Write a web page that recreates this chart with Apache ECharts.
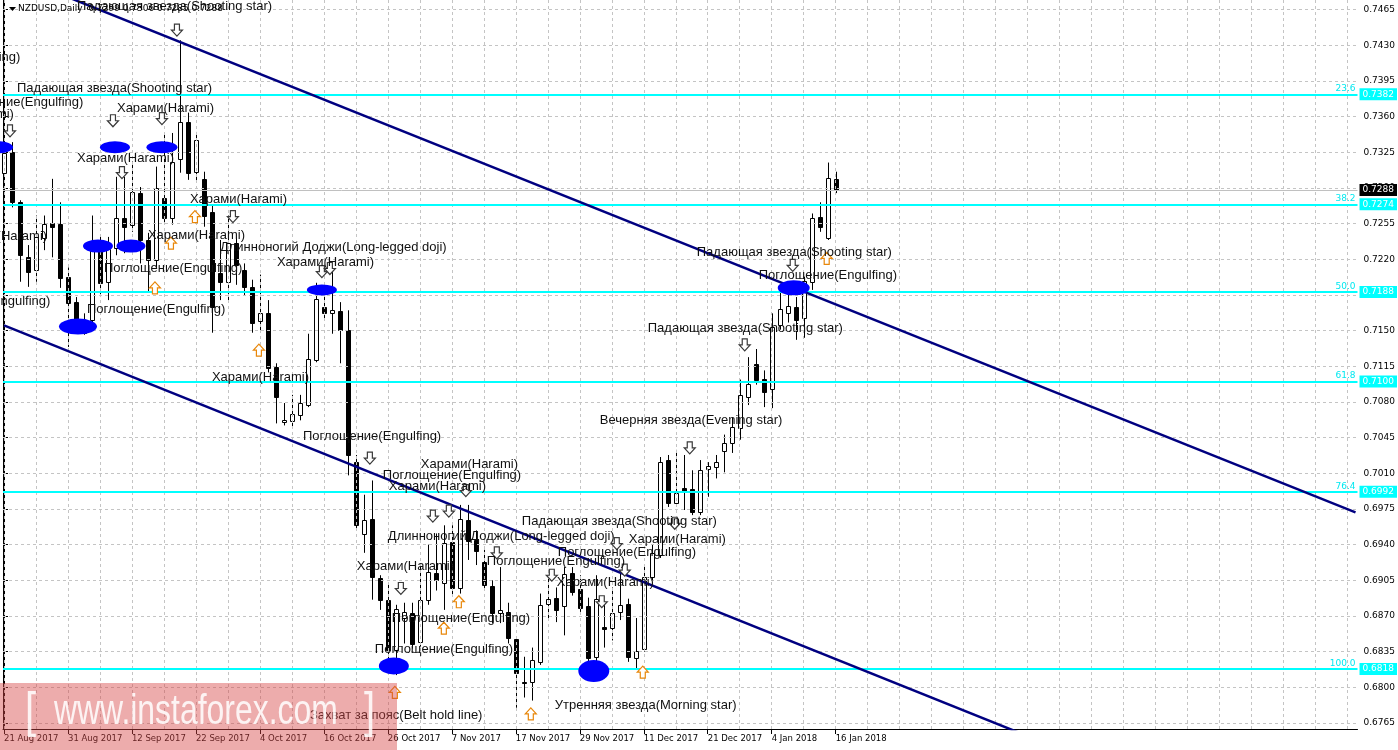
<!DOCTYPE html>
<html><head><meta charset="utf-8">
<script src="https://cdn.jsdelivr.net/npm/echarts@6/dist/echarts.min.js"></script>
<style>html,body{margin:0;padding:0;background:#fff}#c{width:1398px;height:750px}</style>
</head><body><div id="c"></div>
<script>
const dateLabels = ['21 Aug 2017','31 Aug 2017','12 Sep 2017','22 Sep 2017','4 Oct 2017','16 Oct 2017','26 Oct 2017','7 Nov 2017','17 Nov 2017','29 Nov 2017','11 Dec 2017','21 Dec 2017','4 Jan 2018','16 Jan 2018'];
const opens = [0.7305,0.7325,0.7276,0.7222,0.7210,0.7241,0.7256,0.7255,0.7203,0.7178,
0.7148,0.7160,0.7232,0.7198,0.7231,0.7261,0.7254,0.7285,0.7239,0.7219,
0.7280,0.7261,0.7318,0.7355,0.7306,0.7299,0.7266,0.7207,0.7198,0.7236,
0.7210,0.7193,0.7159,0.7167,0.7114,0.7060,0.7061,0.7067,0.7077,0.7121,
0.7173,0.7167,0.7169,0.7151,0.7021,0.6950,0.6965,0.6907,0.6886,0.6837,
0.6868,0.6873,0.6844,0.6886,0.6912,0.6902,0.6943,0.6897,0.6964,0.6945,
0.6923,0.6899,0.6873,0.6874,0.6847,0.6805,0.6805,0.6825,0.6882,0.6888,
0.6880,0.6912,0.6896,0.6880,0.6830,0.6859,0.6858,0.6874,0.6882,0.6829,
0.6838,0.6908,0.6930,0.7023,0.6981,0.6996,0.6995,0.6972,0.7014,0.7016,
0.7032,0.7040,0.7054,0.7085,0.7117,0.7103,0.7093,0.7156,0.7167,0.7173,
0.7162,0.7198,0.7262,0.7241,0.7299];
const highs = [0.7337,0.7335,0.7278,0.7234,0.7263,0.7263,0.7299,0.7276,0.7212,0.7183,
0.7167,0.7263,0.7242,0.7242,0.7301,0.7301,0.7316,0.7291,0.7246,0.7311,
0.7344,0.7344,0.7435,0.7364,0.7345,0.7306,0.7273,0.7239,0.7263,0.7242,
0.7216,0.7200,0.7205,0.7180,0.7118,0.7079,0.7087,0.7087,0.7147,0.7197,
0.7197,0.7214,0.7178,0.7170,0.7028,0.6989,0.7003,0.6910,0.6903,0.6881,
0.6883,0.6883,0.6920,0.6940,0.6951,0.6959,0.6959,0.6979,0.6979,0.6954,
0.6935,0.6905,0.6918,0.6883,0.6849,0.6830,0.6839,0.6892,0.6910,0.6898,
0.6918,0.6918,0.6910,0.6888,0.6910,0.6883,0.6898,0.6912,0.6887,0.6868,
0.6920,0.6940,0.7026,0.7028,0.7033,0.7028,0.7013,0.7023,0.7021,0.7028,
0.7048,0.7065,0.7102,0.7124,0.7132,0.7111,0.7167,0.7193,0.7187,0.7183,
0.7203,0.7265,0.7276,0.7315,0.7306];
const lows = [0.7298,0.7271,0.7198,0.7193,0.7198,0.7229,0.7222,0.7192,0.7134,0.7147,
0.7146,0.7156,0.7183,0.7180,0.7224,0.7226,0.7247,0.7216,0.7188,0.7212,
0.7256,0.7254,0.7305,0.7298,0.7296,0.7252,0.7148,0.7180,0.7180,0.7195,
0.7185,0.7148,0.7148,0.7109,0.7059,0.7057,0.7054,0.7062,0.7075,0.7119,
0.7162,0.7147,0.7118,0.7008,0.6956,0.6932,0.6886,0.6876,0.6824,0.6812,
0.6843,0.6838,0.6840,0.6881,0.6895,0.6876,0.6890,0.6892,0.6925,0.6920,
0.6895,0.6863,0.6863,0.6843,0.6780,0.6790,0.6787,0.6822,0.6866,0.6864,
0.6851,0.6890,0.6874,0.6825,0.6815,0.6839,0.6846,0.6866,0.6825,0.6817,
0.6835,0.6905,0.6927,0.6977,0.6977,0.6974,0.6969,0.6969,0.6987,0.7005,
0.7011,0.7030,0.7043,0.7077,0.7097,0.7075,0.7074,0.7151,0.7158,0.7141,
0.7143,0.7190,0.7247,0.7239,0.7285];
const closes = [0.7324,0.7276,0.7224,0.7208,0.7242,0.7255,0.7252,0.7202,0.7177,0.7156,
0.7160,0.7232,0.7197,0.7230,0.7261,0.7252,0.7286,0.7239,0.7219,0.7290,
0.7261,0.7316,0.7355,0.7305,0.7337,0.7263,0.7173,0.7198,0.7236,0.7214,
0.7193,0.7158,0.7167,0.7113,0.7085,0.7062,0.7068,0.7079,0.7122,0.7181,
0.7167,0.7170,0.7151,0.7028,0.6959,0.6964,0.6908,0.6886,0.6837,0.6877,
0.6874,0.6843,0.6886,0.6913,0.6905,0.6942,0.6897,0.6965,0.6944,0.6934,
0.6900,0.6873,0.6876,0.6848,0.6814,0.6804,0.6827,0.6881,0.6887,0.6876,
0.6911,0.6894,0.6878,0.6829,0.6887,0.6857,0.6873,0.6881,0.6830,0.6836,
0.6908,0.6932,0.7021,0.6981,0.6991,0.6993,0.6972,0.7013,0.7017,0.7021,
0.7040,0.7055,0.7087,0.7098,0.7102,0.7090,0.7154,0.7171,0.7174,0.7160,
0.7199,0.7261,0.7252,0.7300,0.7288];
const priceTicks = [0.6765,0.6800,0.6835,0.6870,0.6905,0.6940,0.6975,0.7010,0.7045,0.7080,0.7115,0.7150,0.7185,0.7220,0.7255,0.7290,0.7325,0.7360,0.7395,0.7430,0.7465];
const fibLevels = [0.7382,0.7274,0.7188,0.7100,0.6992,0.6818];
const fibNames = ['23.6','38.2','50.0','61.8','76.4','100.0'];
const lastPrice = 0.7288;
const headerText = 'NZDUSD,Daily  0.7299 0.7306 0.7285 0.7288';
const channelUpper = [[0,0.75024],[169,0.69716]];
const channelLower = [[0,0.71552],[169,0.66230]];
const patternTexts = [
[9.125,0.7468,'Падающая звезда(Shooting star)'],
[-15.25,0.7418,'Поглощение(Engulfing)'],
[1.625,0.7388,'Падающая звезда(Shooting star)'],
[-7.375,0.7374,'Поглощение(Engulfing)'],
[-10.9,0.7362,'Харами(Harami)'],
[14.125,0.7368,'Харами(Harami)'],
[9.125,0.7319,'Харами(Harami)'],
[23.25,0.7279,'Харами(Harami)'],
[-6.75,0.7242,'Харами(Harami)'],
[18,0.7243,'Харами(Harami)'],
[27,0.7232,'Длинноногий Доджи(Long-legged doji)'],
[34.125,0.7217,'Харами(Harami)'],
[12.5,0.7211,'Поглощение(Engulfing)'],
[-11.5,0.7179,'Поглощение(Engulfing)'],
[10.375,0.7171,'Поглощение(Engulfing)'],
[26,0.7104,'Харами(Harami)'],
[37.375,0.7046,'Поглощение(Engulfing)'],
[52.125,0.7019,'Харами(Harami)'],
[47.375,0.7008,'Поглощение(Engulfing)'],
[48.125,0.6997,'Харами(Harami)'],
[64.75,0.6963,'Падающая звезда(Shooting star)'],
[48,0.6948,'Длинноногий Доджи(Long-legged doji)'],
[69.25,0.6932,'Поглощение(Engulfing)'],
[78.125,0.6945,'Харами(Harami)'],
[60.375,0.6924,'Поглощение(Engulfing)'],
[69.125,0.6903,'Харами(Harami)'],
[44.125,0.6919,'Харами(Harami)'],
[48.5,0.6868,'Поглощение(Engulfing)'],
[46.375,0.6837,'Поглощение(Engulfing)'],
[38.25,0.6772,'Захват за пояс(Belt hold line)'],
[68.875,0.6782,'Утренняя звезда(Morning star)'],
[74.5,0.7062,'Вечерняя звезда(Evening star)'],
[80.5,0.7152,'Падающая звезда(Shooting star)'],
[86.625,0.7227,'Падающая звезда(Shooting star)'],
[94.375,0.7204,'Поглощение(Engulfing)']
];
const downArrows = [[21.625,0.7445],[0.75,0.7346],[13.625,0.7356],[19.75,0.7358],[14.75,0.7305],[28.625,0.7262],
[39.75,0.7208],[40.75,0.7211],[45.75,0.7025],[57.75,0.6993],[53.625,0.6968],[55.625,0.6973],[61.625,0.6932],
[49.625,0.6897],[68.5,0.6910],[76.625,0.6941],[77.625,0.6915],[74.75,0.6884],[83.875,0.6961],[85.75,0.7035],
[92.625,0.7136],[98.625,0.7214]];
const upArrows = [[23.875,0.7262],[20.875,0.7236],[18.875,0.7192],[31.875,0.7131],[56.875,0.6884],[55,0.6858],
[48.875,0.6795],[65.875,0.6774],[79.875,0.6815],[102.875,0.7221]];
const ellipses = [[-0.75,0.7330],[13.875,0.7330],[19.75,0.7330],[11.75,0.7233],[15.875,0.7233],[9.25,0.7154],
[39.75,0.7190],[48.75,0.6821],[73.75,0.6816],[98.75,0.7192]];
const ellipseSizes = [[30,12],[30,12],[31,12],[30,13],[29,13],[38,16],[30,11],[30,17],[31,22],[32,15]];

const candleData = opens.map((o,i)=>[i,o,highs[i],lows[i],closes[i]]);
const dateTickVals = dateLabels.map((_,k)=>k*8);
const vGrid = []; for (let i=0;i<=168;i+=4) vGrid.push({xAxis:i});
const hGrid = priceTicks.map(v=>({yAxis:v}));
const AX_FONT = 'DejaVu Sans';

function renderCandle(params, api){
  const i=api.value(0), o=api.value(1), h=api.value(2), l=api.value(3), c=api.value(4);
  const po=api.coord([i,o]), pc=api.coord([i,c]), ph=api.coord([i,h]), pl=api.coord([i,l]);
  const x=Math.round(po[0])+0.5;
  const top=Math.round(Math.min(po[1],pc[1]))+0.5, bot=Math.round(Math.max(po[1],pc[1]))+0.5;
  const bull=c>=o;
  return {type:'group',children:[
    {type:'line',shape:{x1:x,y1:ph[1],x2:x,y2:pl[1]},style:{stroke:'#000',lineWidth:1}},
    {type:'rect',shape:{x:x-2,y:top,width:4,height:Math.max(bot-top,1)},style:{fill:bull?'#fff':'#000',stroke:'#000',lineWidth:1}}
  ]};
}
function arrowRender(dir, color){
  return function(params, api){
    const p=api.coord([api.value(0),api.value(1)]);
    const pts=[[-2.5,-6],[2.5,-6],[2.5,0],[5.5,0],[0,6],[-5.5,0],[-2.5,0]].map(q=>[p[0]+q[0],p[1]+q[1]*dir]);
    return {type:'polygon',shape:{points:pts},style:{fill:'#fff',stroke:color,lineWidth:1.2}};
  };
}
function textRender(params, api){
  const p=api.coord([api.value(0),api.value(1)]);
  return {type:'text',x:p[0],y:p[1],style:{text:patternTexts[params.dataIndex][2],fill:'#111',font:'13px "Liberation Sans", Arial, sans-serif',align:'left',verticalAlign:'middle'}};
}
const clearLine = {type:'solid',color:'rgba(0,0,0,0)',width:0};

const chart = echarts.init(document.getElementById('c'), null, {renderer:'canvas'});
chart.setOption({
  animation:false,
  backgroundColor:'#fff',
  grid:{left:3,right:40,top:0,bottom:21},
  xAxis:{type:'value',min:-0.125,max:169.25,
    axisLine:{show:true,onZero:false,lineStyle:{color:'#000',width:1}},
    axisTick:{show:true,customValues:dateTickVals,length:5,lineStyle:{color:'#000'}},
    axisLabel:{customValues:dateTickVals,formatter:v=>dateLabels[Math.round(v/8)],align:'left',margin:5,color:'#000',fontFamily:AX_FONT,fontSize:8.5},
    splitLine:{show:false}},
  yAxis:[{type:'value',position:'right',min:0.67591,max:0.74745,
    axisLine:{show:true,lineStyle:{color:'#000',width:1}},
    axisTick:{show:true,customValues:priceTicks,length:4,lineStyle:{color:'#000'}},
    axisLabel:{customValues:priceTicks,formatter:v=>v.toFixed(4),margin:6,color:'#000',fontFamily:AX_FONT,fontSize:9},
    splitLine:{show:false}},
   {type:'value',position:'left',min:0.67591,max:0.74745,
    axisLine:{show:true,lineStyle:{color:'#000',width:1}},axisTick:{show:false},axisLabel:{show:false},splitLine:{show:false}}],
  series:[
    {type:'line',data:[],z:1,silent:true,
     markLine:{silent:true,symbol:'none',precision:4,animation:false,label:{show:false},
       lineStyle:{type:[3,3],color:'#c4c4c4',width:1},data:vGrid.concat(hGrid)}},
    {type:'line',data:[],z:2,silent:true,
     markLine:{silent:true,symbol:'none',precision:4,animation:false,
       lineStyle:{type:'solid',color:'#c0c0c0',width:1},
       label:{show:true,position:'end',distance:2,formatter:lastPrice.toFixed(4),backgroundColor:'#000',color:'#fff',padding:[2,3,1,3],fontFamily:AX_FONT,fontSize:9},
       data:[{yAxis:lastPrice}]}},
    {type:'custom',renderItem:renderCandle,data:candleData,z:3,encode:{x:0,y:[1,2,3,4]}},
    {type:'line',data:[],z:4,silent:true,
     markLine:{silent:true,symbol:'none',precision:4,animation:false,
       lineStyle:{type:'solid',color:'#00ffff',width:2},
       label:{show:true,position:'end',distance:2,backgroundColor:'#00ffff',color:'#fff',padding:[2,3,1,3],fontFamily:AX_FONT,fontSize:9,formatter:p=>fibLevels[p.dataIndex].toFixed(4)},
       data:fibLevels.map(v=>({yAxis:v}))}},
    {type:'line',data:[],z:5,silent:true,
     markLine:{silent:true,symbol:'none',precision:4,animation:false,
       lineStyle:clearLine,
       label:{show:true,position:'insideEndTop',distance:[2,1],color:'#00e8f0',fontFamily:AX_FONT,fontSize:9,formatter:p=>fibNames[p.dataIndex]},
       data:fibLevels.map(v=>({yAxis:v}))}},
    {type:'line',data:channelUpper,z:6,symbol:'none',lineStyle:{color:'#000080',width:2.5},clip:true},
    {type:'line',data:channelLower,z:6,symbol:'none',lineStyle:{color:'#000080',width:2.5},clip:true},
    {type:'scatter',data:ellipses,z:7,clip:false,symbol:'circle',symbolSize:(v,p)=>ellipseSizes[p.dataIndex],itemStyle:{color:'#0000ff',opacity:1}},
    {type:'custom',renderItem:arrowRender(1,'#3a3a3a'),data:downArrows,z:8,encode:{x:0,y:1}},
    {type:'custom',renderItem:arrowRender(-1,'#e8870a'),data:upArrows,z:8,encode:{x:0,y:1}},
    {type:'custom',renderItem:textRender,data:patternTexts.map(t=>[t[0],t[1]]),z:9,encode:{x:0,y:1}}
  ],
  graphic:[
    {type:'polygon',left:9,top:7,shape:{points:[[0,0],[7,0],[3.5,4]]},style:{fill:'#000'},z:20},
    {type:'text',left:18,top:4,style:{text:headerText,fill:'#000',font:'9px "DejaVu Sans"'},z:20},
    {type:'rect',left:0,top:683,shape:{width:397,height:67},style:{fill:'rgba(214,70,70,0.45)'},z:30},
    {type:'text',x:25,y:688,style:{text:'[',fill:'rgba(255,255,255,0.85)',font:'50px "Liberation Sans", sans-serif'},scaleX:0.8,z:31},
    {type:'text',x:54,y:691,style:{text:'www.instaforex.com',fill:'rgba(255,255,255,0.85)',font:'42px "Liberation Sans", sans-serif'},scaleX:0.76,z:31},
    {type:'text',x:364,y:688,style:{text:']',fill:'rgba(255,255,255,0.85)',font:'50px "Liberation Sans", sans-serif'},scaleX:0.8,z:31}
  ]
});
</script></body></html>
